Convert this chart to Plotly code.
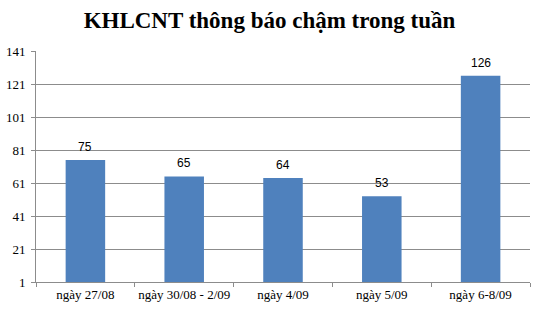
import plotly.graph_objects as go

categories = ["ngày 27/08", "ngày 30/08 - 2/09", "ngày 4/09", "ngày 5/09", "ngày 6-8/09"]
values = [75, 65, 64, 53, 126]
tick_vals = [1, 21, 41, 61, 81, 101, 121, 141]

fig = go.Figure(go.Bar(
    x=categories, y=values, marker_color="#4F81BD", marker_line_width=0,
))
for c, v in zip(categories, values):
    fig.add_annotation(x=c, y=v, text=str(v), showarrow=False, yanchor="bottom", yshift=4,
                       font=dict(family="Liberation Sans", size=12, color="#000000"))
fig.update_layout(
    width=539, height=309, margin=dict(l=36, r=9, t=51, b=27),
    paper_bgcolor="white", plot_bgcolor="white", bargap=0.6, showlegend=False,
    title=dict(text="<b>KHLCNT thông báo chậm trong tuần</b>", x=0.5, xanchor="center",
               y=0.935, yanchor="middle",
               font=dict(family="Liberation Serif", size=23, color="#000000")),
)
fig.update_yaxes(range=[1, 141], tickvals=tick_vals, showgrid=True, gridcolor="#8C8C8C",
                 gridwidth=1, showline=True, linecolor="#8C8C8C", ticks="outside", ticklen=4,
                 tickcolor="#8C8C8C", zeroline=False, automargin=False, ticklabelstandoff=3,
                 tickfont=dict(family="Liberation Serif", size=13, color="#000000"))
fig.update_xaxes(showline=True, linecolor="#8C8C8C", ticks="outside", tickson="boundaries",
                 ticklen=4, tickcolor="#8C8C8C", tickangle=0, automargin=False,
                 tickfont=dict(family="Liberation Serif", size=13, color="#000000"))
fig.write_html("out.html")
